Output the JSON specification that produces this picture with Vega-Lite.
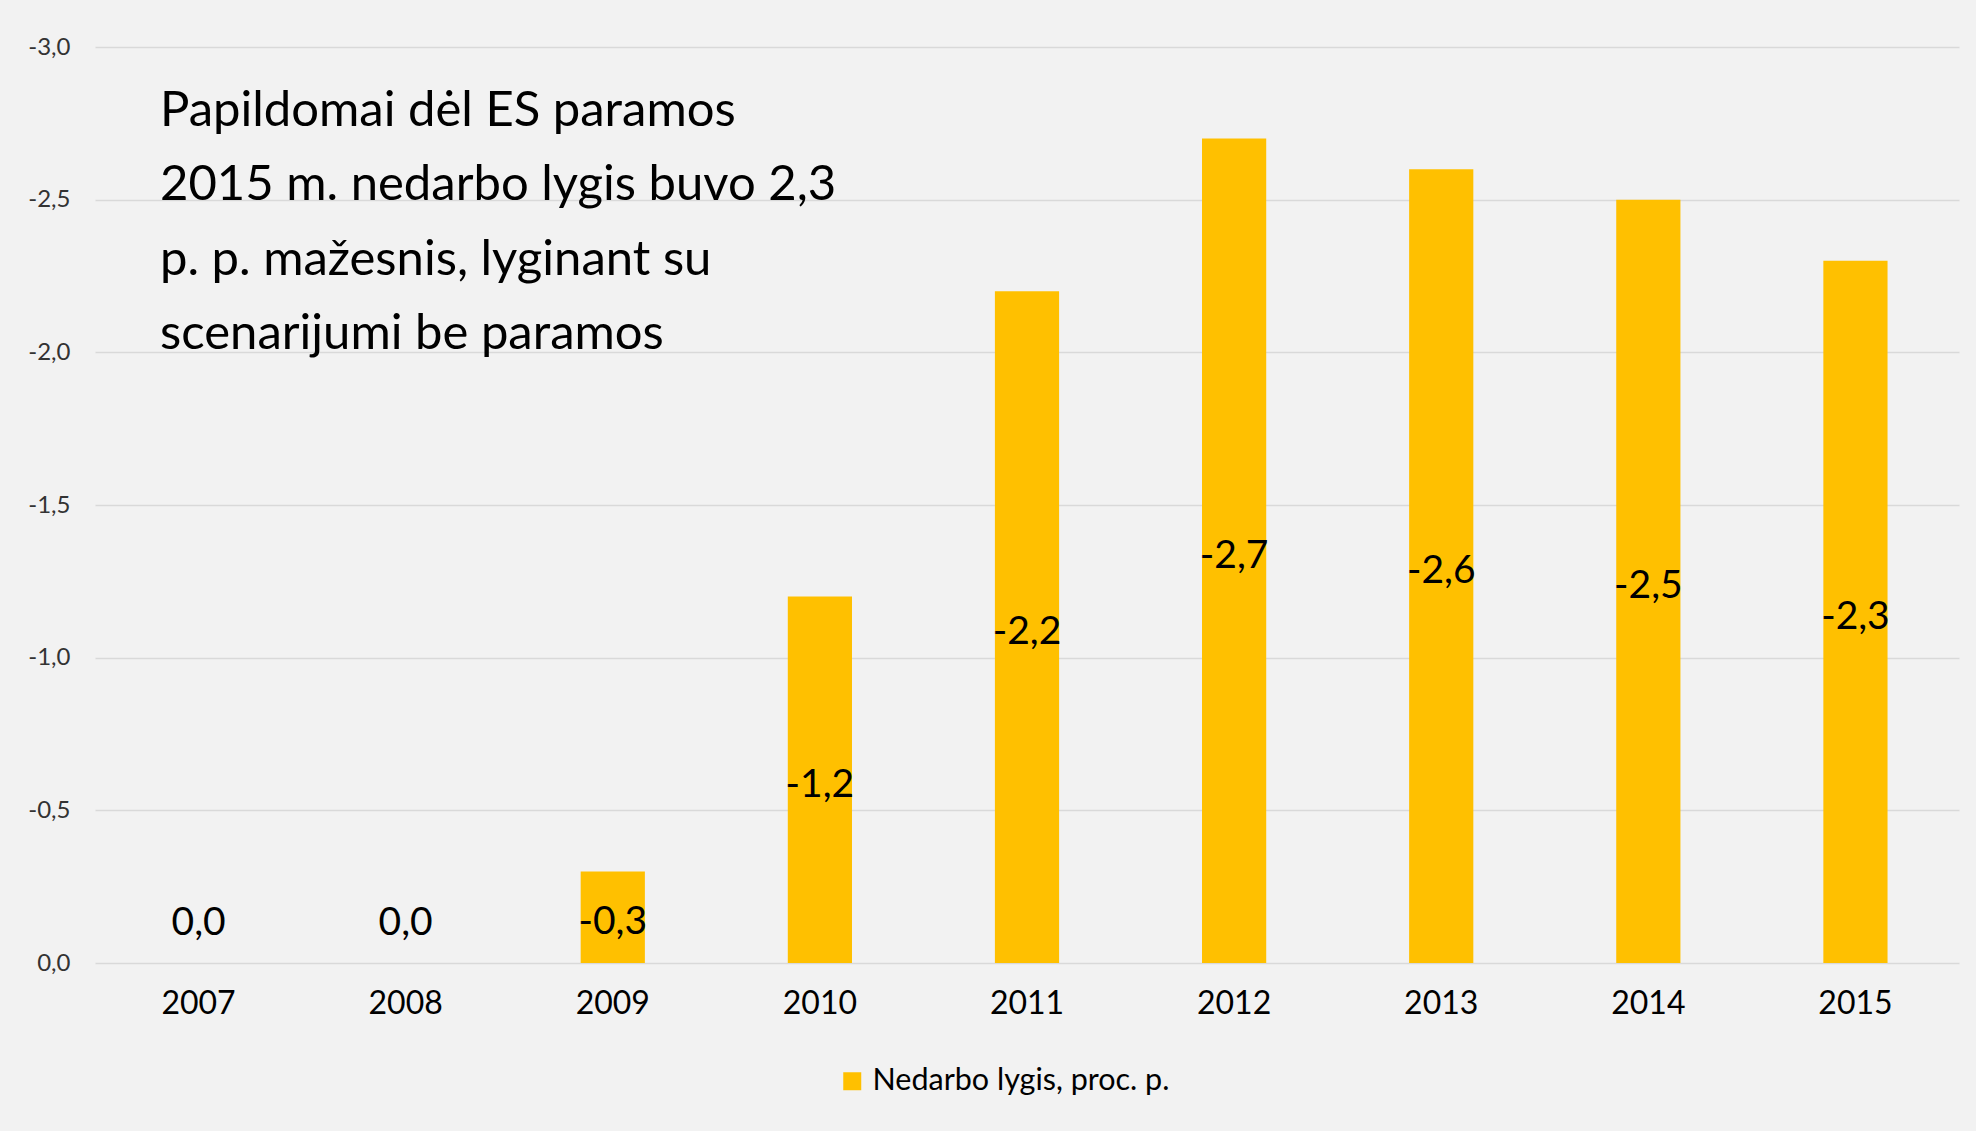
{
  "$schema": "https://vega.github.io/schema/vega-lite/v6.json",
  "width": 1864,
  "height": 916,
  "autosize": {"type": "none"},
  "padding": {"left": 95, "top": 47, "right": 17, "bottom": 168},
  "background": "#F2F2F2",
  "config": {
    "locale": {"number": {"decimal": ",", "thousands": " ", "grouping": [3], "currency": ["", " €"], "minus": "-"}},
    "view": {"stroke": null},
    "font": "Lato"
  },
  "title": {
    "text": ["Papildomai dėl ES paramos", "2015 m. nedarbo lygis buvo 2,3", "p. p. mažesnis, lyginant su", "scenarijumi be paramos"],
    "anchor": "start",
    "frame": "group",
    "font": "Lato",
    "fontSize": 49,
    "fontWeight": "normal",
    "color": "#000000",
    "lineHeight": 74.5,
    "baseline": "top",
    "offset": 0,
    "dx": 65,
    "dy": 324
  },
  "data": {
    "values": [
      {"metai": "2007", "v": 0.0},
      {"metai": "2008", "v": 0.0},
      {"metai": "2009", "v": -0.3},
      {"metai": "2010", "v": -1.2},
      {"metai": "2011", "v": -2.2},
      {"metai": "2012", "v": -2.7},
      {"metai": "2013", "v": -2.6},
      {"metai": "2014", "v": -2.5},
      {"metai": "2015", "v": -2.3}
    ]
  },
  "encoding": {
    "x": {
      "field": "metai",
      "type": "ordinal",
      "scale": {"paddingInner": 0.69, "paddingOuter": 0.345},
      "axis": {"title": null, "labelAngle": 0, "labelFontSize": 32, "labelFont": "Lato", "labelColor": "#000000", "labelPadding": 25, "ticks": false, "domain": false, "grid": false}
    }
  },
  "layer": [
    {
      "mark": {"type": "bar"},
      "encoding": {
        "y": {
          "field": "v",
          "type": "quantitative",
          "scale": {"domain": [-3, 0], "reverse": true, "nice": false, "zero": true},
          "axis": {"title": null, "values": [-3, -2.5, -2, -1.5, -1, -0.5, 0], "format": ".1f", "labelFontSize": 24, "labelFont": "Lato", "labelColor": "#333333", "labelPadding": 25, "ticks": false, "domain": false, "gridColor": "#D9D9D9", "gridWidth": 1.5}
        },
        "color": {
          "datum": "Nedarbo lygis, proc. p.",
          "type": "nominal",
          "scale": {"range": ["#FFC000"]},
          "legend": {"orient": "none", "legendX": 742, "legendY": 1019, "direction": "horizontal", "title": null, "symbolType": "square", "symbolSize": 324, "symbolStrokeWidth": 0, "labelFontSize": 30.5, "labelFont": "Lato", "labelColor": "#000000", "labelOffset": 5, "labelLimit": 0}
        }
      }
    },
    {
      "transform": [{"filter": "datum.v != 0"}],
      "mark": {"type": "text", "fontSize": 39, "font": "Lato", "color": "#000000", "baseline": "middle", "dy": 5},
      "encoding": {
        "y": {"field": "v", "type": "quantitative", "scale": {"domain": [-6, 0], "reverse": true, "nice": false}, "axis": null},
        "text": {"field": "v", "type": "quantitative", "format": ".1f"}
      }
    },
    {
      "transform": [{"filter": "datum.v == 0"}],
      "mark": {"type": "text", "fontSize": 39, "font": "Lato", "color": "#000000", "baseline": "middle", "dy": -40},
      "encoding": {
        "y": {"field": "v", "type": "quantitative", "scale": {"domain": [-6, 0], "reverse": true, "nice": false}, "axis": null},
        "text": {"field": "v", "type": "quantitative", "format": ".1f"}
      }
    }
  ],
  "resolve": {"scale": {"y": "independent"}}
}
